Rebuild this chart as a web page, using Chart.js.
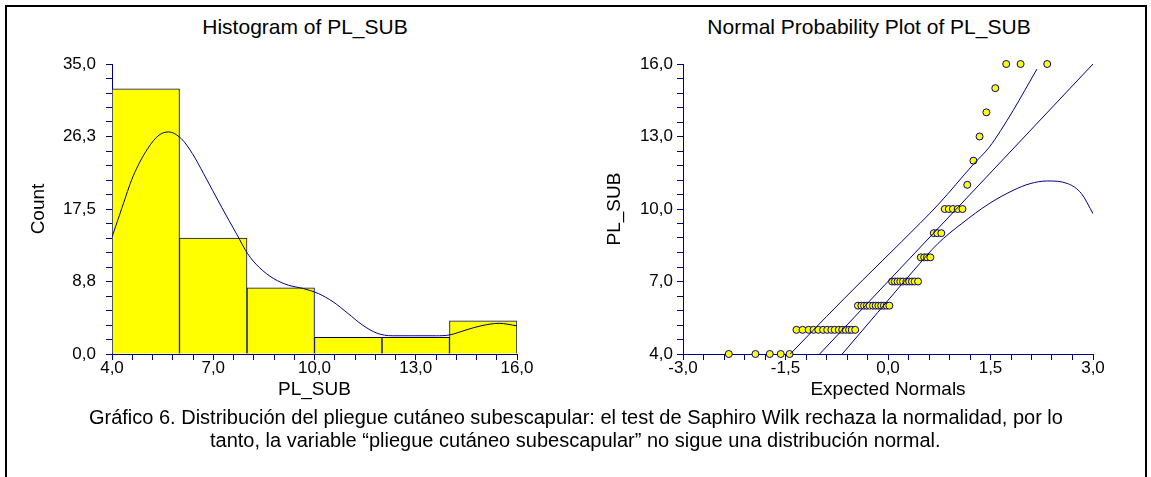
<!DOCTYPE html>
<html>
<head>
  <meta charset="utf-8">
  <title>PL_SUB - Histogram and Normal Probability Plot</title>
  <script src="https://cdn.jsdelivr.net/npm/chart.js"></script>
  <style>
    body { margin: 0; background: #fff; font-family: "Liberation Sans", Arial, sans-serif; }
    #page { position: relative; width: 1151px; height: 477px; overflow: hidden; background: #fff; }
    #frame { position: absolute; left: 5px; top: 5px; width: 1138px; height: 480px; border: 2px solid #000; border-bottom: none; }
    .title { position: absolute; top: 15px; font-size: 21px; line-height: 24px; white-space: nowrap; transform: translateX(-50%); color: #000; }
    canvas { position: absolute; top: 0; }
    #caption { position: absolute; left: 0; width: 1151px; top: 406px; text-align: center; font-family: "Liberation Sans", Arial, sans-serif; font-size: 20px; line-height: 23px; color: #000; }
    #caption span { display: inline-block; white-space: nowrap; transform-origin: 50% 50%; }
  </style>
</head>
<body>
  <div id="page">
    <div id="frame"></div>
    <div class="title" style="left:305px">Histogram of PL_SUB</div>
    <div class="title" style="left:869px">Normal Probability Plot of PL_SUB</div>
    <canvas id="histChart" width="580" height="410" style="left:0"></canvas>
    <canvas id="probChart" width="571" height="410" style="left:580px"></canvas>
    <div id="caption"><span id="cap1">Gráfico 6. Distribución del pliegue cutáneo subescapular: el test de Saphiro Wilk rechaza la normalidad, por lo</span><br><span id="cap2">tanto, la variable “pliegue cutáneo subescapular” no sigue una distribución normal.</span></div>
  </div>

  <script>
    // histogram bins (PL_SUB)
    const binStart = [4, 6, 8, 10, 12, 14];
    const binEnd = [6, 8, 10, 12, 14, 16];
    const binCount = [32, 14, 8, 2, 2, 4];

    // density curve over the histogram
    const curveX = [4.0, 4.3, 4.62, 5.06, 5.39, 5.67, 6.05, 6.38, 6.71, 7.25, 7.69, 8.02, 8.35, 8.79, 9.23, 9.67, 10.11, 10.55, 10.99, 11.42, 11.86, 12.3, 12.95, 13.61, 14.0, 14.49, 14.93, 15.47, 16.0];
    const curveY = [14.1, 17.7, 21.4, 24.8, 26.4, 26.8, 26.0, 24.2, 21.8, 17.7, 14.5, 12.1, 10.5, 9.1, 8.3, 7.9, 7.3, 6.3, 4.9, 3.5, 2.5, 2.2, 2.2, 2.2, 2.3, 2.9, 3.4, 3.7, 3.4];

    const histXLabels = ['4,0', '7,0', '10,0', '13,0', '16,0'];
    const histYLabels = ['0,0', '8,8', '17,5', '26,3', '35,0'];

    // normal probability plot: expected normals vs PL_SUB
    const normX = [-2.33, -1.94, -1.73, -1.57, -1.44,
      -1.34, -1.25, -1.16, -1.09, -1.02, -0.95, -0.89, -0.83, -0.78, -0.72, -0.67, -0.62, -0.57, -0.53, -0.48,
      -0.44, -0.39, -0.35, -0.31, -0.27, -0.22, -0.18, -0.14, -0.10, -0.06, -0.02, 0.02,
      0.06, 0.10, 0.14, 0.18, 0.22, 0.27, 0.31, 0.35, 0.39, 0.44,
      0.48, 0.53, 0.57, 0.62,
      0.67, 0.72, 0.78,
      0.83, 0.89, 0.95, 1.02, 1.09,
      1.16, 1.25, 1.34, 1.44, 1.57,
      1.73, 1.94, 2.33];
    const normY = [4, 4, 4, 4, 4,
      5, 5, 5, 5, 5, 5, 5, 5, 5, 5, 5, 5, 5, 5, 5,
      6, 6, 6, 6, 6, 6, 6, 6, 6, 6, 6, 6,
      7, 7, 7, 7, 7, 7, 7, 7, 7, 7,
      8, 8, 8, 8,
      9, 9, 9,
      10, 10, 10, 10, 10,
      11, 12, 13, 14, 15,
      16, 16, 16];

    const fitX = [-1.0, 3.0];
    const fitY = [4.0, 16.0];
    const upperX = [-1.43, -0.9, -0.37, 0.2, 0.74, 1.25, 1.48, 1.65, 1.83, 2.0, 2.18];
    const upperY = [4.0, 5.55, 7.06, 8.65, 10.2, 11.85, 12.55, 13.25, 14.07, 14.9, 15.79];
    const lowerX = [-0.67, -0.15, 0.38, 0.73, 1.08, 1.48, 1.83, 2.08, 2.33, 2.63, 2.83, 3.0];
    const lowerY = [4.0, 5.72, 7.47, 8.57, 9.4, 10.22, 10.77, 11.05, 11.16, 11.05, 10.64, 9.81];

    const probXLabels = ['-3,0', '-1,5', '0,0', '1,5', '3,0'];
    const probYLabels = ['4,0', '7,0', '10,0', '13,0', '16,0'];

    const navy = '#000080';
    const pts = (xs, ys) => xs.map((x, i) => ({ x: x, y: ys[i] }));

    function makeAxis(min, max, labels, pad, title, titlePad, fitSize, horizontal) {
      const step = (max - min) / 20;
      return {
        type: 'linear', min: min, max: max, offset: false,
        afterBuildTicks: s => {
          const t = [];
          for (let i = 0; i <= 20; i++) t.push({ value: min + i * step });
          s.ticks = t;
        },
        afterFit: s => { if (horizontal) s.height = fitSize; else s.width = fitSize; },
        ticks: {
          autoSkip: false, maxRotation: 0, minRotation: 0, color: '#000', padding: pad,
          font: { family: 'Liberation Sans', size: 17 },
          callback: (v, i) => i % 5 === 0 ? labels[i / 5] : ''
        },
        grid: { drawOnChartArea: false, drawTicks: true, tickLength: 6, tickColor: navy, color: navy, offset: false },
        border: { display: true, color: navy, width: 1 },
        title: { display: true, text: title, color: '#000', font: { family: 'Liberation Sans', size: 19 }, padding: titlePad }
      };
    }

    new Chart(document.getElementById('histChart'), {
      type: 'bar',
      data: {
        datasets: [{
          type: 'line',
          data: pts(curveX, curveY),
          borderColor: navy,
          borderWidth: 1,
          pointRadius: 0,
          cubicInterpolationMode: 'monotone',
          order: 0
        }, {
          type: 'bar',
          xAxisID: 'xb',
          data: binStart.map((s, i) => ({ x: (s + binEnd[i]) / 2, y: binCount[i] })),
          backgroundColor: '#ffff00',
          borderColor: navy,
          borderWidth: 1,
          barPercentage: 1,
          categoryPercentage: 1,
          grouped: false,
          order: 1
        }]
      },
      options: {
        responsive: false, animation: false, events: [],
        layout: { padding: { top: 64, right: 63, left: 0, bottom: 0 } },
        plugins: { legend: { display: false }, tooltip: { enabled: false } },
        scales: {
          x: makeAxis(4, 16, histXLabels, -2, 'PL_SUB', { top: 0, bottom: 9 }, 56, true),
          // hidden axis only for the bars, so the bin width is not taken from the minor ticks
          xb: {
            type: 'linear', display: false, min: 4, max: 16, offset: false,
            afterBuildTicks: s => { s.ticks = [{ value: 4 }, { value: 16 }]; }
          },
          y: makeAxis(0, 35, histYLabels, 10, 'Count', { top: 27, bottom: 0 }, 112, false)
        }
      }
    });

    new Chart(document.getElementById('probChart'), {
      type: 'scatter',
      data: {
        datasets: [{
          data: pts(fitX, fitY), showLine: true, borderColor: navy, borderWidth: 1, pointRadius: 0, order: 0
        }, {
          data: pts(upperX, upperY), showLine: true, borderColor: navy, borderWidth: 1, pointRadius: 0,
          cubicInterpolationMode: 'monotone', order: 0
        }, {
          data: pts(lowerX, lowerY), showLine: true, borderColor: navy, borderWidth: 1, pointRadius: 0,
          cubicInterpolationMode: 'monotone', order: 0
        }, {
          data: pts(normX, normY),
          backgroundColor: '#ffff00', borderColor: navy, borderWidth: 1, pointRadius: 3.5,
          clip: false, order: 1
        }]
      },
      options: {
        responsive: false, animation: false, events: [],
        layout: { padding: { top: 64, right: 58, left: 0, bottom: 0 } },
        plugins: { legend: { display: false }, tooltip: { enabled: false } },
        scales: {
          x: makeAxis(-3, 3, probXLabels, -2, 'Expected Normals', { top: 0, bottom: 9 }, 56, true),
          y: makeAxis(4, 16, probYLabels, 4, 'PL_SUB', { top: 23, bottom: 0 }, 103, false)
        }
      }
    });

    // caption uses a narrow face in the original: squeeze it to the same width
    const cap1 = document.getElementById('cap1');
    const cap2 = document.getElementById('cap2');
    const squeeze = 974 / cap1.getBoundingClientRect().width;
    cap1.style.transform = 'scaleX(' + squeeze + ')';
    cap2.style.transform = 'scaleX(' + squeeze + ')';
  </script>
</body>
</html>
